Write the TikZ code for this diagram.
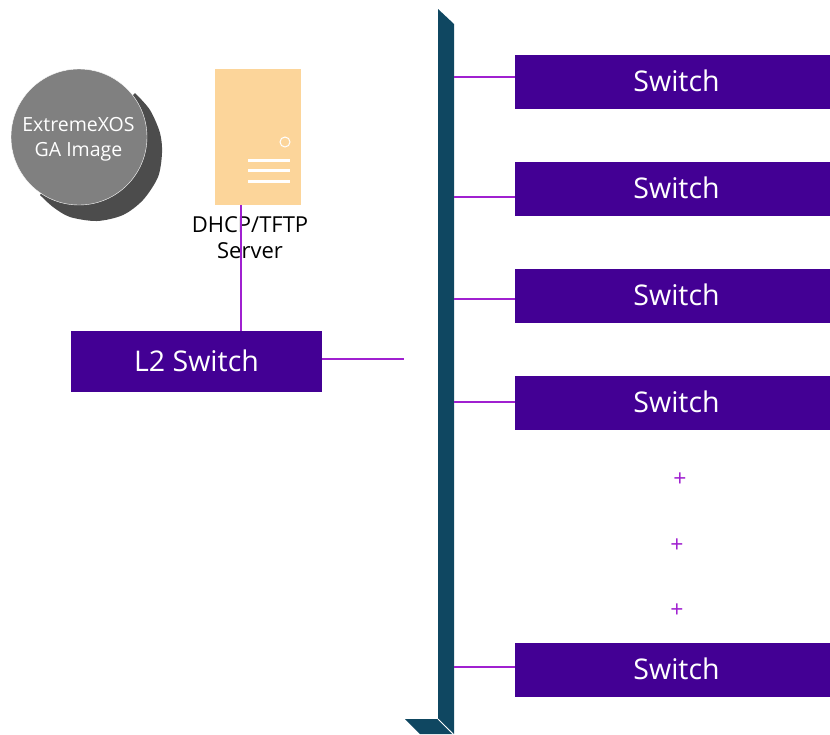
\documentclass[tikz,border=0pt]{standalone}
\usepackage{fontspec}
\setmainfont{Open Sans}
\usetikzlibrary{positioning}
\definecolor{swviolet}{HTML}{430094}
\definecolor{linkviolet}{HTML}{A020D0}
\definecolor{busblue}{HTML}{0F4761}
\definecolor{srvorange}{HTML}{FCD59A}
\newcommand{\swtext}[1]{\raisebox{2.5pt}{#1}}
\tikzset{
	swbox/.style={fill=swviolet,text=white,minimum width=323pt,minimum height=54pt,inner sep=0pt,font=\fontsize{28.5}{32}\selectfont},
	link/.style={linkviolet,line width=1.1pt},
	dots/.style={text=linkviolet,inner sep=0pt,font=\fontsize{23}{26}\selectfont},
	srvbar/.style={white,line width=3pt},
}
\begin{document}
\begin{tikzpicture}[x=1pt,y=-1pt]
	%frame
	\useasboundingbox (0,0) rectangle (830,734);
	% Bus
	\fill[busblue] (438,9) -- (454,24) -- (454,734) -- (438,719) -- cycle;
	\fill[busblue] (405,719) -- (438,719) -- (453,734) -- (420,734) -- cycle;
	\draw[white,line width=0.8pt] (438,719) -- (453,734);
	\coordinate (b1) at (454,77);
	\coordinate (b2) at (454,197);
	\coordinate (b3) at (454,299);
	\coordinate (b4) at (454,402);
	\coordinate (b5) at (454,667);
	% Switches
	\node[swbox] (sw1) at (676.5,82) {\swtext{Switch}};
	\node[swbox] (sw2) at (676.5,189) {\swtext{Switch}};
	\node[swbox] (sw3) at (676.5,296) {\swtext{Switch}};
	\node[swbox] (sw4) at (676.5,403) {\swtext{Switch}};
	\node[swbox] (sw5) at (676.5,670) {\swtext{Switch}};
	\foreach \i in {1,...,5}
		\draw[link] (b\i) -- (b\i -| sw\i.west);
	% Dots
	\node[dots] (d1) at (680,479.5) {+};
	\node[dots] (d2) at (677,545.5) {+};
	\node[dots] (d3) at (677,610.5) {+};
	% Image disk
	\fill[black!70] plot[smooth] coordinates {(135,93) (150,110) (160,133) (162,153) (158,177) (143,200) (123,215) (97,221) (70,217) (53,207) (40,195)} -- cycle;
	\node[circle,draw=white,fill=black!50,minimum size=136pt,inner sep=0pt] (img) at (79,137) {};
	\node[align=center,inner sep=0pt,text=white,font=\fontsize{19.5}{25}\selectfont] (imgname) at (78.5,139.5) {ExtremeXOS\\GA Image};
	% Server
	\node[fill=srvorange,minimum width=86pt,minimum height=136pt,inner sep=0pt] (srv) at (258,137) {};
	\node[circle,draw=white,line width=1pt,minimum size=10pt,inner sep=0pt] (led) at (285,142) {};
	\draw[srvbar] (248,160) -- (290,160);
	\draw[srvbar] (248,170.5) -- (290,170.5);
	\draw[srvbar] (248,181) -- (290,181);
	\node[align=center,inner sep=0pt,font=\fontsize{22}{26.5}\selectfont] (srvname) at (250,237.5) {DHCP/TFTP\\Server};
	% L2 switch
	\node[swbox,minimum width=251pt,minimum height=61pt] (l2) at (196.5,361.5) {\swtext{L2 Switch}};
	\coordinate (free) at (404,359);
	\draw[link] (l2.east |- free) -- (free);
	\coordinate (srvb) at (241,205);
	\draw[link] (srvb) -- (srvb |- l2.north);
\end{tikzpicture}
\end{document}
